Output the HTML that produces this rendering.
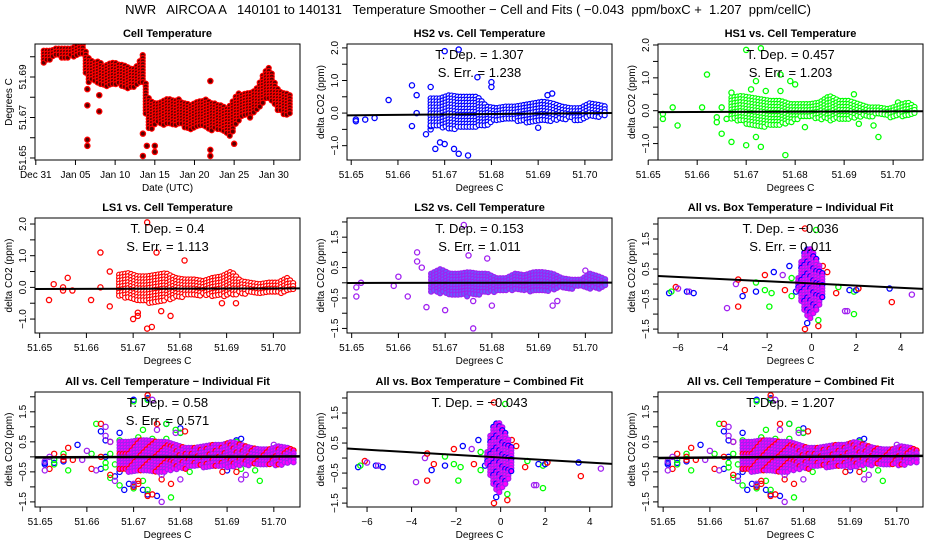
<!DOCTYPE html>
<html><head><meta charset="utf-8"><style>
html,body{margin:0;padding:0;background:#fff;}
svg{display:block;font-family:"Liberation Sans",sans-serif;}
</style></head><body>
<svg id="chart" width="936" height="540" viewBox="0 0 936 540">
<text x="468" y="14" text-anchor="middle" font-size="13" xml:space="preserve">NWR   AIRCOA A   140101 to 140131   Temperature Smoother − Cell and Fits ( −0.043  ppm/boxC +  1.207  ppm/cellC)</text>
</svg>
<script>
// ---- Panel 1 data: cell temperature time series (day since Dec 31, band lo/hi)
const tDays=[1,1.5,2,2.5,3,3.5,4,4.5,5,5.5,6,6.5,7,7.5,8,8.5,9,9.5,10,10.5,11,11.5,12,12.5,13,13.5,14,14.5,15,15.5,16,16.5,17,17.5,18,18.5,19,19.5,20,20.5,21,21.5,22,22.5,23,23.5,24,24.5,25,25.5,26,26.5,27,27.5,28,28.5,29,29.5,30,30.5,31,31.5,32];
const tLo=[51.696,51.698,51.699,51.700,51.700,51.699,51.699,51.700,51.700,51.701,51.700,51.686,51.688,51.687,51.686,51.685,51.685,51.686,51.686,51.686,51.685,51.684,51.685,51.685,51.686,51.687,51.665,51.664,51.666,51.667,51.666,51.667,51.667,51.666,51.666,51.666,51.664,51.664,51.665,51.666,51.666,51.665,51.662,51.664,51.663,51.663,51.662,51.660,51.664,51.668,51.670,51.670,51.671,51.672,51.673,51.676,51.679,51.678,51.676,51.673,51.672,51.671,51.672];
const tHi=[51.703,51.703,51.703,51.704,51.704,51.704,51.704,51.704,51.705,51.706,51.706,51.700,51.698,51.697,51.698,51.695,51.696,51.697,51.697,51.696,51.696,51.695,51.694,51.694,51.697,51.701,51.681,51.678,51.677,51.677,51.678,51.679,51.679,51.678,51.679,51.677,51.677,51.676,51.677,51.678,51.678,51.679,51.677,51.677,51.676,51.676,51.674,51.676,51.679,51.682,51.681,51.682,51.682,51.683,51.685,51.690,51.693,51.695,51.688,51.684,51.682,51.682,51.681];
const tOutDay=[6.5,6.5,6.5,6.5,8,8,13.5,13.5,14,15,15,22,22,22,25,27];
const tOutVal=[51.684,51.676,51.659,51.656,51.681,51.673,51.662,51.651,51.656,51.656,51.653,51.688,51.654,51.651,51.657,51.670];
const dayTickLabels=["Dec 31","Jan 05","Jan 10","Jan 15","Jan 20","Jan 25","Jan 30"];

// ---- Cell-temperature scatter cores (x bin, lo, hi)
const coreX=[51.667,51.669,51.671,51.673,51.675,51.677,51.679,51.681,51.683,51.685,51.687,51.689,51.691,51.693,51.695,51.697,51.699,51.701,51.703,51.7045];
const hs2Lo=[-0.45,-0.45,-0.5,-0.5,-0.5,-0.45,-0.4,-0.25,-0.25,-0.25,-0.3,-0.3,-0.25,-0.25,-0.2,-0.2,-0.25,-0.15,-0.15,-0.1];
const hs2Hi=[0.45,0.45,0.55,0.5,0.5,0.5,0.2,0.15,0.2,0.2,0.25,0.3,0.35,0.3,0.2,0.15,0.15,0.3,0.25,0.2];
const hs1Lo=[-0.3,-0.3,-0.5,-0.5,-0.5,-0.45,-0.4,-0.25,-0.2,-0.25,-0.3,-0.25,-0.25,-0.2,-0.2,-0.15,-0.2,-0.2,-0.15,-0.1];
const hs1Hi=[0.4,0.45,0.4,0.35,0.3,0.3,0.2,0.2,0.2,0.25,0.45,0.3,0.3,0.2,0.1,0.1,0.05,0.15,0.25,0.1];
const ls1Lo=[-0.3,-0.35,-0.45,-0.5,-0.5,-0.4,-0.35,-0.3,-0.3,-0.25,-0.3,-0.3,-0.25,-0.2,-0.2,-0.2,-0.15,-0.2,-0.15,-0.1];
const ls1Hi=[0.4,0.45,0.35,0.35,0.4,0.45,0.3,0.25,0.25,0.2,0.3,0.35,0.5,0.2,0.15,0.1,0.15,0.15,0.3,0.1];
const ls2Lo=[-0.3,-0.35,-0.4,-0.45,-0.45,-0.4,-0.35,-0.3,-0.3,-0.25,-0.3,-0.3,-0.3,-0.25,-0.2,-0.2,-0.15,-0.2,-0.2,-0.15];
const ls2Hi=[0.3,0.45,0.3,0.3,0.35,0.3,0.3,0.15,0.15,0.3,0.25,0.35,0.35,0.3,0.15,0.1,0.1,0.3,0.2,0.1];
const allLo=[-0.45,-0.5,-0.5,-0.55,-0.55,-0.5,-0.45,-0.4,-0.35,-0.35,-0.35,-0.35,-0.35,-0.3,-0.3,-0.3,-0.3,-0.3,-0.25,-0.2];
const allHi=[0.5,0.5,0.55,0.55,0.5,0.5,0.4,0.3,0.3,0.35,0.4,0.4,0.5,0.4,0.3,0.25,0.25,0.35,0.3,0.2];

// ---- Cell-temperature scatter outliers
const hs2OutX=[51.651,51.651,51.653,51.655,51.658,51.663,51.664,51.663,51.664,51.666,51.667,51.667,51.667,51.668,51.669,51.670,51.670,51.672,51.673,51.673,51.675,51.677,51.680,51.680,51.690,51.692,51.693];
const hs2OutY=[-0.25,-0.2,-0.2,-0.15,0.4,0.85,0.55,-0.4,0,-0.65,0.8,-0.4,-0.5,-1.1,-0.9,-0.95,1.9,-1.1,-1.25,1.95,-1.3,1.1,0.95,0.8,-0.45,0.55,0.6];
const hs1OutX=[51.653,51.653,51.655,51.656,51.661,51.662,51.664,51.664,51.665,51.665,51.666,51.667,51.667,51.670,51.670,51.671,51.672,51.672,51.673,51.673,51.674,51.677,51.677,51.678,51.679,51.680,51.682,51.692,51.693,51.696,51.697,51.701];
const hs1OutY=[-0.1,-0.25,0.1,-0.45,0.1,1.1,-0.2,-0.35,0.1,-0.7,-0.25,-0.95,0.55,-1.05,1.85,0.65,0.9,-0.8,-1.1,1.9,0.6,1.1,0.6,-1.35,0.9,0.8,-0.5,0.5,-0.4,-0.45,-0.8,0.25];
const ls1OutX=[51.652,51.653,51.655,51.655,51.656,51.657,51.661,51.663,51.663,51.665,51.665,51.670,51.671,51.671,51.673,51.674,51.673,51.675,51.676,51.678,51.681,51.689,51.692];
const ls1OutY=[-0.4,0.1,0,-0.1,0.3,-0.1,-0.4,1.1,0,-0.6,0.5,-1.0,-0.8,-0.9,-1.3,-1.25,2.05,1.1,-0.75,-0.9,0.85,-0.5,-0.5];
const ls2OutX=[51.651,51.651,51.652,51.659,51.660,51.662,51.664,51.664,51.665,51.666,51.670,51.674,51.675,51.676,51.676,51.679,51.680,51.693,51.694,51.700];
const ls2OutY=[-0.45,-0.15,0.0,-0.1,0.2,-0.45,1.0,0.7,0.5,-0.8,-0.9,1.9,0.9,-1.5,-0.6,0.8,-0.75,-0.75,-0.6,0.4];

// ---- Box-temperature scatter
const boxCoreX=[-0.6,-0.45,-0.3,-0.1,0.1,0.3,0.45,0.6];
const boxCoreLo=[-0.2,-0.7,-1.0,-1.2,-1.0,-0.8,-0.5,-0.2];
const boxCoreHi=[0.2,0.8,1.1,1.2,1.0,0.7,0.4,0.2];
const boxOutX=[-6.4,-6.3,-6.1,-6.0,-5.6,-5.5,-5.3,-3.8,-3.4,-3.3,-3.3,-3.1,-3.0,-2.5,-2.5,-2.1,-2.1,-1.9,-1.8,-1.7,-1.3,-1.2,-1.0,-0.9,-0.9,-0.7,-0.3,-0.3,-0.2,0.2,0.3,0.3,0.5,0.7,1.1,1.2,1.5,1.6,1.7,1.9,1.9,2.0,2.1,3.5,3.6,4.5];
const boxOutY=[-0.3,-0.25,-0.1,-0.15,-0.25,-0.25,-0.3,-0.8,0,0.15,-0.75,-0.4,-0.2,0.05,-0.25,0.3,-0.2,-0.75,-0.3,0.4,0.3,-0.2,0.6,0.2,-0.4,-0.25,1.85,-1.5,-1.3,1.8,-1.4,-1.2,0.6,0.4,-0.3,-0.1,-0.9,-0.9,-0.2,-0.25,-1.0,-0.2,-0.15,-0.15,-0.6,-0.35];
const boxOutC=["b","g","r","p","b","p","b","p","p","r","r","b","r","g","b","r","g","g","g","b","p","r","b","g","g","b","r","r","b","g","r","g","r","r","r","g","p","p","b","g","g","b","r","b","r","p"];

// ---- Fit results
const fitSlopes=[1.307,0.457,0.4,0.153,-0.036,0.58,-0.043,1.207];
const fitErrs=[1.238,1.203,1.113,1.011,0.011,0.571];
const fitIntercepts=[-0.03,-0.03,-0.04,0.0,0.02,0.0,0.02,0.0];

const SVGNS="http://www.w3.org/2000/svg";
const svg=document.getElementById('chart');
const COL={b:"#0000ff",g:"#00ff00",r:"#ff0000",p:"#a020f0"};
function mk(tag,attrs,parent,txt){const e=document.createElementNS(SVGNS,tag);for(const k in attrs)e.setAttribute(k,attrs[k]);if(txt!==undefined)e.textContent=txt;(parent||svg).appendChild(e);return e;}
function interp(xs,ys,x){if(x<=xs[0])return ys[0];for(let i=1;i<xs.length;i++){if(x<=xs[i]){const t=(x-xs[i-1])/(xs[i]-xs[i-1]);return ys[i-1]+t*(ys[i]-ys[i-1]);}}return ys[ys.length-1];}

function panel(p){
  const g=mk('g',{});
  
  
  const [x0,y0,x1,y1]=p.box;
  const sx=v=>x0+(v-p.xd[0])/(p.xd[1]-p.xd[0])*(x1-x0);
  const sy=v=>y1-(v-p.yd[0])/(p.yd[1]-p.yd[0])*(y1-y0);
  const clip='clip-'+p.name;
  const cp=mk('clipPath',{id:clip},g);mk('rect',{x:x0,y:y0,width:x1-x0,height:y1-y0},cp);
  const plot=mk('g',{'clip-path':'url(#'+clip+')'},g);
  
  
  p.draw(plot,sx,sy);
  const frame=mk('rect',{x:x0,y:y0,width:x1-x0,height:y1-y0,fill:'none',stroke:'#000','stroke-width':1},g);
  
  
  const xa=mk('g',{},g);
  
  
  mk('line',{x1:sx(p.xt[0]),x2:sx(p.xt[p.xt.length-1]),y1:y1,y2:y1,stroke:'#000'},xa);
  p.xt.forEach((v,i)=>{mk('line',{x1:sx(v),x2:sx(v),y1:y1,y2:y1+5,stroke:'#000'},xa);
    const t=mk('text',{x:sx(v),y:y1+18,'text-anchor':'middle','font-size':10},xa,p.xl[i]);
    
    });
  const xt=mk('text',{x:(x0+x1)/2,y:y1+31,'text-anchor':'middle','font-size':10},g,p.xlab);
  
  
  const ya=mk('g',{},g);
  
  
  mk('line',{x1:x0,x2:x0,y1:sy(p.yt[0]),y2:sy(p.yt[p.yt.length-1]),stroke:'#000'},ya);
  p.yt.forEach((v,i)=>{mk('line',{x1:x0-5,x2:x0,y1:sy(v),y2:sy(v),stroke:'#000'},ya);
    if(p.yl[i]){const t=mk('text',{x:0,y:0,'text-anchor':'middle','font-size':10,transform:`translate(${x0-9},${sy(v)}) rotate(-90)`},ya,p.yl[i]);
    
    }});
  const yt=mk('text',{x:0,y:0,'text-anchor':'middle','font-size':10,transform:`translate(${x0-23},${(y0+y1)/2}) rotate(-90)`},g,p.ylab);
  
  
  const tt=mk('text',{x:(x0+x1)/2,y:y0-7,'text-anchor':'middle','font-size':11,'font-weight':'bold'},g,p.title);
  
  
  if(p.fit!==undefined){
    const f=mk('text',{x:(x0+x1)/2,y:y0+15,'text-anchor':'middle','font-size':13},g,'T. Dep. =  '+String(fitSlopes[p.fit]).replace('-','−'));
    
    
    if(p.err!==undefined){const e=mk('text',{x:(x0+x1)/2,y:y0+33,'text-anchor':'middle','font-size':13},g,'S. Err. =  '+fitErrs[p.err]);
    
    }
    const a=fitIntercepts[p.fit], b=fitSlopes[p.fit], xm=p.xc||0;
    const ln=mk('line',{x1:x0,x2:x1,y1:sy(a+b*(p.xd[0]-xm)),y2:sy(a+b*(p.xd[1]-xm)),stroke:'#000','stroke-width':p.lw||2},plot);
    
    
  }
}
function ring(parent,x,y,stroke,fill,name){const c=mk('circle',{cx:x,cy:y,r:2.6,fill:fill||'none',stroke:stroke,'stroke-width':1.3},parent);
  
  return c;}
function core(parent,sx,sy,xs,lo,hi,stroke,fill,alt,altEvery){
  const g=mk('g',{},parent);
  
  
  const a=sx(xs[0]),b=sx(xs[xs.length-1]);let k=0;const n=altEvery||5;
  for(let px=a;px<=b+0.1;px+=3){const v=xs[0]+(px-a)/(b-a)*(xs[xs.length-1]-xs[0]);
    const ya=sy(interp(xs,hi,v)),yb=sy(interp(xs,lo,v));
    for(let py=ya;py<=yb+0.1;py+=3){k++;
      mk('circle',{cx:px,cy:py,r:2.5,fill:fill,stroke:(alt&&k%n==0)?alt:stroke,'stroke-width':1.2},g);}}
}
const cellXT=[51.65,51.66,51.67,51.68,51.69,51.70];
const cellXL=["51.65","51.66","51.67","51.68","51.69","51.70"];
const ytA=[-1,-0.5,0,0.5,1,1.5,2], ylA=["−1.0","","0.0","","1.0","","2.0"];
const ytB=[-1.5,-1,-0.5,0,0.5,1,1.5,2], ylB=["−1.5","","−0.5","","0.5","","1.5",""];
const YL="delta CO2 (ppm)";
const colX=[[35,300],[347,612],[658,923]], rowY=[[44,160],[218,333],[392,507]];
function B(c,r){return [colX[c][0],rowY[r][0],colX[c][1],rowY[r][1]];}

panel({name:'cell-temperature-panel',box:B(0,0),xd:[-0.1,33.3],yd:[51.649,51.7063],
  xt:[0,5,10,15,20,25,30],xl:dayTickLabels,yt:[51.65,51.66,51.67,51.68,51.69,51.70],yl:["51.65","","51.67","","51.69",""],
  title:'Cell Temperature',xlab:'Date (UTC)',ylab:'Degrees C',
  draw:(g,sx,sy)=>{core(g,sx,sy,tDays,tLo,tHi,'#ff0000','#5a0000');
    tOutDay.forEach((d,i)=>ring(g,sx(d),sy(tOutVal[i]),'#ff0000','#5a0000','outlier-point'));}});
function cellPanel(name,c,r,yd,yt,yl,title,lo,hi,col,fill,ox,oy,fit,err,xd){
  panel({name:name,box:B(c,r),xd:xd||[51.649,51.7057],yd:yd,xt:cellXT,xl:cellXL,yt:yt,yl:yl,title:title,xlab:'Degrees C',ylab:YL,fit:fit,err:err,xc:51.68,
    draw:(g,sx,sy)=>{ox.forEach((x,i)=>ring(g,sx(x),sy(oy[i]),col,'none','outlier-point'));core(g,sx,sy,coreX,lo,hi,col,fill);}});
}
cellPanel('hs2-panel',1,0,[-1.44,2.12],ytA,ylA,'HS2 vs. Cell Temperature',hs2Lo,hs2Hi,COL.b,'#fff',hs2OutX,hs2OutY,0,0,[51.6491,51.7058]);
cellPanel('hs1-panel',2,0,[-1.5,2.03],ytA,ylA,'HS1 vs. Cell Temperature',hs1Lo,hs1Hi,COL.g,'#fff',hs1OutX,hs1OutY,1,1,[51.652,51.7061]);
cellPanel('ls1-panel',0,1,[-1.44,2.19],ytA,ylA,'LS1 vs. Cell Temperature',ls1Lo,ls1Hi,COL.r,'#fff',ls1OutX,ls1OutY,2,2);
cellPanel('ls2-panel',1,1,[-1.65,2.13],ytB,ylB,'LS2 vs. Cell Temperature',ls2Lo,ls2Hi,COL.p,'#6a5cff',ls2OutX,ls2OutY,3,3);

function boxPanel(name,c,r,title,fit,err){
  panel({name:name,box:B(c,r),xd:[-6.9,5.0],yd:[-1.63,2.2],xt:[-6,-4,-2,0,2,4],xl:["−6","−4","−2","0","2","4"],yt:ytB,yl:ylB,title:title,xlab:'Degrees C',ylab:YL,fit:fit,err:err,xc:0,
    draw:(g,sx,sy)=>{boxOutX.forEach((x,i)=>ring(g,sx(x),sy(boxOutY[i]),COL[boxOutC[i]],'none','outlier-point'));
      core(g,sx,sy,boxCoreX,boxCoreLo,boxCoreHi,COL.p,'#ff00ff',COL.b,4);}});
}
function allCellPanel(name,c,r,title,fit,err){
  panel({name:name,box:B(c,r),xd:[51.6489,51.7056],yd:[-1.67,2.16],xt:cellXT,xl:cellXL,yt:ytB,yl:ylB,title:title,xlab:'Degrees C',ylab:YL,fit:fit,err:err,xc:51.68,lw:2.5,
    draw:(g,sx,sy)=>{
      [[hs2OutX,hs2OutY,'b'],[hs1OutX,hs1OutY,'g'],[ls1OutX,ls1OutY,'r'],[ls2OutX,ls2OutY,'p']].forEach(s=>s[0].forEach((x,i)=>ring(g,sx(x),sy(s[1][i]),COL[s[2]],'none','outlier-point')));
      core(g,sx,sy,coreX,allLo,allHi,COL.p,'#ff00ff',COL.r,5);}});
}
boxPanel('all-box-individual-panel',2,1,'All vs. Box Temperature − Individual Fit',4,4);
allCellPanel('all-cell-individual-panel',0,2,'All vs. Cell Temperature − Individual Fit',5,5);
boxPanel('all-box-combined-panel',1,2,'All vs. Box Temperature − Combined Fit',6);
allCellPanel('all-cell-combined-panel',2,2,'All vs. Cell Temperature − Combined Fit',7);
</script>
</body></html>
